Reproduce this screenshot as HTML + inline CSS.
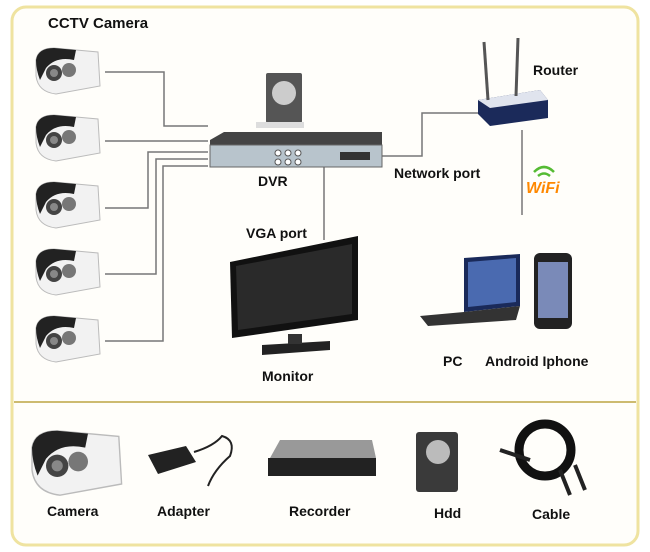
<!DOCTYPE html>
<html><head><meta charset="utf-8"><style>
html,body{margin:0;background:#fff;overflow:hidden;width:650px;height:552px}
svg{display:block}
text{font-family:"Liberation Sans",Arial,sans-serif;font-weight:bold;fill:#111}
</style></head><body>
<svg width="650" height="552" viewBox="0 0 650 552" xmlns="http://www.w3.org/2000/svg">
<defs>
<g id="cam">
<path d="M0,14 Q2,2 18,2 L62,6 L64,40 L20,48 Q2,46 0,30 Z" fill="#f2f2f2" stroke="#bbb"/>
<path d="M0,14 Q2,2 18,2 L40,4 L38,14 Q20,10 10,22 L4,34 Q0,24 0,14Z" fill="#222"/>
<circle cx="18" cy="27" r="8" fill="#444"/><circle cx="33" cy="24" r="7" fill="#777"/>
<circle cx="18" cy="27" r="4" fill="#888"/>
</g>
</defs>
<rect x="12" y="7" width="626" height="538" rx="14" fill="#fffefa" stroke="#efe3a0" stroke-width="3"/>
<line x1="14" y1="402" x2="636" y2="402" stroke="#cdbb70" stroke-width="2"/>
<text x="48" y="28" font-size="15">CCTV Camera</text>
<use href="#cam" x="36" y="46"/><use href="#cam" x="36" y="113"/><use href="#cam" x="36" y="180"/><use href="#cam" x="36" y="247"/><use href="#cam" x="36" y="314"/>
<g fill="none" stroke="#777" stroke-width="1.5">
<polyline points="105,72 164,72 164,126 208,126"/>
<polyline points="105,141 208,141"/>
<polyline points="105,208 148,208 148,152 208,152"/>
<polyline points="105,274 156,274 156,159 208,159"/>
<polyline points="105,341 163,341 163,166 208,166"/>
<polyline points="324,166 324,240"/>
<polyline points="380,156 422,156 422,113 480,113"/>
<line x1="522" y1="130" x2="522" y2="215"/>
</g>
<rect x="266" y="73" width="36" height="50" fill="#555" rx="2"/>
<circle cx="284" cy="93" r="12" fill="#ccc"/><rect x="256" y="122" width="48" height="6" fill="#ddd"/>
<path d="M210,140 L224,132 L382,132 L382,145 L210,145Z" fill="#444"/>
<rect x="210" y="145" width="172" height="22" fill="#b8c4cc" stroke="#666"/>
<g fill="#fff" stroke="#555"><circle cx="278" cy="153" r="3"/><circle cx="288" cy="153" r="3"/><circle cx="298" cy="153" r="3"/><circle cx="278" cy="162" r="3"/><circle cx="288" cy="162" r="3"/><circle cx="298" cy="162" r="3"/></g>
<rect x="340" y="152" width="30" height="8" fill="#333"/>
<text x="258" y="186" font-size="14">DVR</text>
<text x="246" y="238" font-size="14">VGA port</text>
<path d="M230,262 L358,236 L358,320 L232,338Z" fill="#111"/>
<path d="M236,266 L352,244 L352,314 L238,330Z" fill="#2a2a2a"/>
<path d="M262,345 L330,341 L330,350 L262,355Z" fill="#222"/>
<rect x="288" y="334" width="14" height="10" fill="#333"/>
<text x="262" y="381" font-size="14">Monitor</text>
<path d="M478,100 L540,90 L548,100 L548,118 L490,126 L478,114Z" fill="#1b2a5a"/>
<path d="M478,100 L540,90 L548,100 L490,108Z" fill="#e0e4ee"/>
<line x1="488" y1="100" x2="484" y2="42" stroke="#555" stroke-width="3"/>
<line x1="516" y1="96" x2="518" y2="38" stroke="#555" stroke-width="3"/>
<text x="533" y="75" font-size="14">Router</text>
<text x="394" y="178" font-size="14">Network port</text>
<path d="M534,172 q10,-10 20,0" fill="none" stroke="#5b3" stroke-width="2.5"/>
<path d="M538,176 q6,-5 12,0" fill="none" stroke="#5b3" stroke-width="2.5"/>
<text x="526" y="193" font-size="16" font-style="italic" style="fill:#f80">WiFi</text>
<path d="M464,258 L520,254 L520,306 L464,312Z" fill="#1a2a5a"/>
<path d="M468,262 L516,258 L516,302 L468,307Z" fill="#4a6ab0"/>
<path d="M420,316 L464,312 L520,306 L516,320 L428,326Z" fill="#333"/>
<rect x="534" y="253" width="38" height="76" rx="6" fill="#222"/>
<rect x="538" y="262" width="30" height="56" fill="#7a8ab8"/>
<text x="443" y="366" font-size="14">PC</text>
<text x="485" y="366" font-size="14">Android Iphone</text>
<use href="#cam" transform="translate(32,428) scale(1.4)"/>
<path d="M148,455 L186,446 L196,462 L158,474Z" fill="#222"/>
<path d="M194,452 Q214,446 222,436 Q236,440 230,456 Q214,470 208,486" fill="none" stroke="#222" stroke-width="2"/>
<path d="M270,458 L280,440 L372,440 L376,458Z" fill="#999"/>
<rect x="268" y="458" width="108" height="18" fill="#222"/>
<rect x="416" y="432" width="42" height="60" fill="#3a3a3a" rx="3"/><circle cx="438" cy="452" r="12" fill="#bbb"/>
<circle cx="545" cy="450" r="26" fill="none" stroke="#111" stroke-width="9"/>
<path d="M500,450 L530,460 M560,470 L570,495 M575,465 L585,490" stroke="#222" stroke-width="4"/>
<text x="47" y="516" font-size="14">Camera</text>
<text x="157" y="516" font-size="14">Adapter</text>
<text x="289" y="516" font-size="14">Recorder</text>
<text x="434" y="518" font-size="14">Hdd</text>
<text x="532" y="519" font-size="14">Cable</text>
</svg>
</body></html>
